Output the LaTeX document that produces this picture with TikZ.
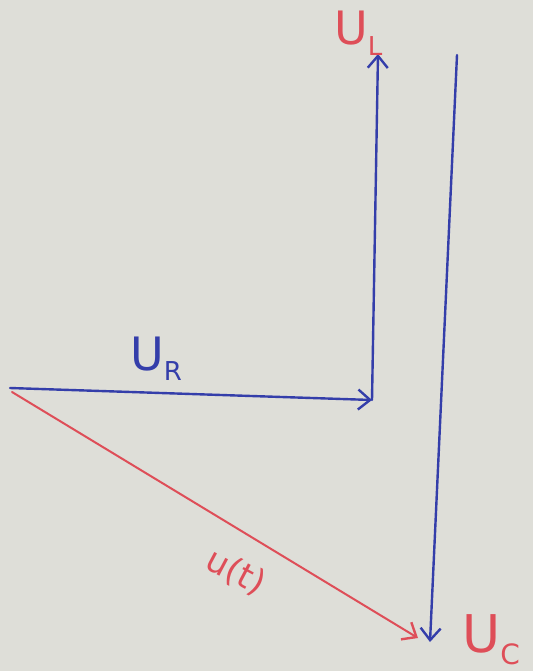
\documentclass[tikz,border=0pt]{standalone}
\usepackage{fontspec}
\setmainfont{DejaVu Sans}
\usetikzlibrary{arrows.meta}
\definecolor{board}{RGB}{222,222,216}
\definecolor{penblue}{RGB}{52,62,170}
\definecolor{penred}{RGB}{222,78,88}
\tikzset{
  phasor/.style={line width=2.4pt, line cap=round, -{Straight Barb[length=12pt,width=20pt,line width=2.4pt]}},
  lbl/.style={font=\fontsize{52}{52}\selectfont, inner sep=0pt}
}
\begin{document}
\begin{tikzpicture}[x=1pt,y=-1pt]
\fill[board] (0,0) rectangle (533,671);
\useasboundingbox (0,0) rectangle (533,671);
\coordinate (O) at (10,388);
\coordinate (R) at (372,400);
\coordinate (L) at (378,54);
\coordinate (Cs) at (457,55);
\coordinate (C) at (430,642);
\coordinate (Ot) at (12,392);
\coordinate (U) at (418,638);
\draw[phasor, penblue] (O) -- (R);
\draw[phasor, penblue] (R) -- (L);
\draw[phasor, penblue] (Cs) -- (C);
\draw[phasor, penred, line width=2pt] (Ot) -- (U);
\node[lbl, penred, anchor=base west, font=\fontsize{46}{46}\selectfont] (uL) at (334,45) {U\textsubscript{\fontsize{26}{26}\selectfont L}};
\node[lbl, penblue, anchor=base west, font=\fontsize{46}{46}\selectfont] (uR) at (130,370) {U\textsubscript{\fontsize{26}{26}\selectfont R}};
\node[lbl, penred, rotate=-28, font=\fontsize{34}{34}\selectfont] (ut) at (236,572) {u(t)};
\node[lbl, penred, anchor=base west] (uC) at (462,652) {U\textsubscript{\fontsize{28}{28}\selectfont C}};
\end{tikzpicture}
\end{document}
